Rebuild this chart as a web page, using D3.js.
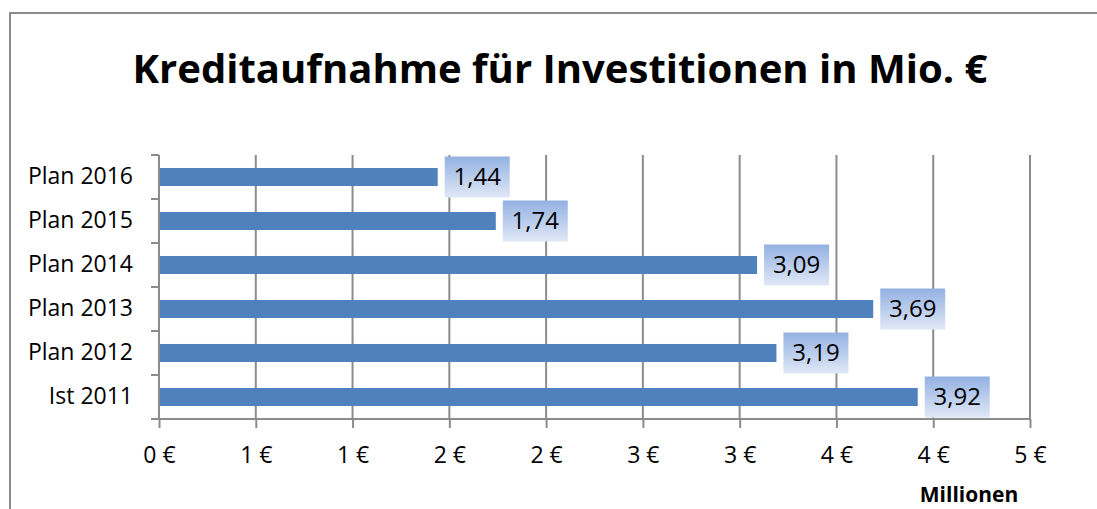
<!DOCTYPE html>
<html lang="de">
<head>
<meta charset="UTF-8">
<title>Kreditaufnahme</title>
<script src="https://d3js.org/d3.v7.min.js"></script>
<style>
  body { margin: 0; background: #fff; }
  text { font-family: "Open Sans", "DejaVu Sans", sans-serif; fill: #000; }
</style>
</head>
<body>
<script>
const categories = ["Plan 2016", "Plan 2015", "Plan 2014", "Plan 2013", "Plan 2012", "Ist 2011"];
const values = [1.44, 1.74, 3.09, 3.69, 3.19, 3.92];
const tickValues = [0, 0.5, 1, 1.5, 2, 2.5, 3, 3.5, 4, 4.5];
const tickLabels = ["0 €", "1 €", "1 €", "2 €", "2 €", "3 €", "3 €", "4 €", "4 €", "5 €"];

const width = 1097, height = 509;
const svg = d3.select("body").append("svg")
  .attr("width", width).attr("height", height);

const defs = svg.append("defs");
const grad = defs.append("linearGradient")
  .attr("id", "lblGrad").attr("x1", 0).attr("y1", 0).attr("x2", 0).attr("y2", 1);
grad.append("stop").attr("offset", "0%").attr("stop-color", "#93b1e2");
grad.append("stop").attr("offset", "100%").attr("stop-color", "#e0e8f6");

// outer frame
svg.append("rect")
  .attr("x", 10).attr("y", 13).attr("width", 1100).attr("height", 520)
  .attr("fill", "none").attr("stroke", "#8c8c8c").attr("stroke-width", 2);

// title
svg.append("text")
  .attr("x", 560).attr("y", 83)
  .attr("text-anchor", "middle")
  .style("font-weight", "bold")
  .style("font-size", "40px")
  .attr("textLength", 855).attr("lengthAdjust", "spacingAndGlyphs")
  .text("Kreditaufnahme für Investitionen in Mio. €");

const x = d3.scaleLinear().domain([0, 4.5]).range([159, 1030]);
const y = d3.scaleBand().domain(categories).range([155, 419]).paddingInner(0.59).paddingOuter(0.295);

// gridlines
svg.append("g")
  .selectAll("line")
  .data(tickValues.slice(1))
  .join("line")
  .attr("x1", d => x(d)).attr("x2", d => x(d))
  .attr("y1", 155).attr("y2", 419)
  .attr("stroke", "#8c8c8c").attr("stroke-width", 2);

// x axis
const xAxis = svg.append("g")
  .attr("transform", "translate(0,419)")
  .call(d3.axisBottom(x).tickValues(tickValues).tickFormat((d, i) => tickLabels[i]).tickSize(9));
xAxis.select(".domain").attr("stroke", "#8c8c8c").attr("stroke-width", 2)
  .attr("d", "M151,0H1031");
xAxis.selectAll(".tick line").attr("stroke", "#8c8c8c").attr("stroke-width", 2);
xAxis.selectAll(".tick text").style("font-size", "23px").attr("fill", "#000")
  .attr("y", 44).attr("dy", 0);

// y axis
const yAxis = svg.append("g")
  .attr("transform", "translate(159,0)")
  .call(d3.axisLeft(y).tickSize(0).tickPadding(26));
yAxis.select(".domain").attr("stroke", "#8c8c8c").attr("stroke-width", 2)
  .attr("d", "M0,155V419");
yAxis.selectAll(".tick text").style("font-size", "23px").attr("fill", "#000");

// y band boundary ticks
svg.append("g")
  .selectAll("line")
  .data(d3.range(categories.length))
  .join("line")
  .attr("x1", 151).attr("x2", 159)
  .attr("y1", i => 155 + i * y.step())
  .attr("y2", i => 155 + i * y.step())
  .attr("stroke", "#8c8c8c").attr("stroke-width", 2);

// bars
svg.append("g")
  .selectAll("rect")
  .data(values)
  .join("rect")
  .attr("x", x(0) + 1)
  .attr("y", (d, i) => y(categories[i]))
  .attr("width", d => x(d) - x(0) - 1)
  .attr("height", y.bandwidth())
  .attr("fill", "#4f81bd");

// data labels
const lbl = svg.append("g")
  .selectAll("g")
  .data(values)
  .join("g")
  .attr("transform", (d, i) => `translate(${x(d) + 7},${y(categories[i]) + y.bandwidth() / 2})`);
lbl.append("rect")
  .attr("x", 0).attr("y", -20.5).attr("width", 65).attr("height", 41)
  .attr("fill", "url(#lblGrad)");
lbl.append("text")
  .attr("x", 32.5).attr("y", 8)
  .attr("text-anchor", "middle")
  .style("font-size", "24px")
  .text(d => d3.format(".2f")(d).replace(".", ","));

// axis title
svg.append("text")
  .attr("x", 969).attr("y", 502)
  .attr("text-anchor", "middle")
  .style("font-weight", "bold")
  .style("font-size", "21px")
  .text("Millionen");
</script>
</body>
</html>
